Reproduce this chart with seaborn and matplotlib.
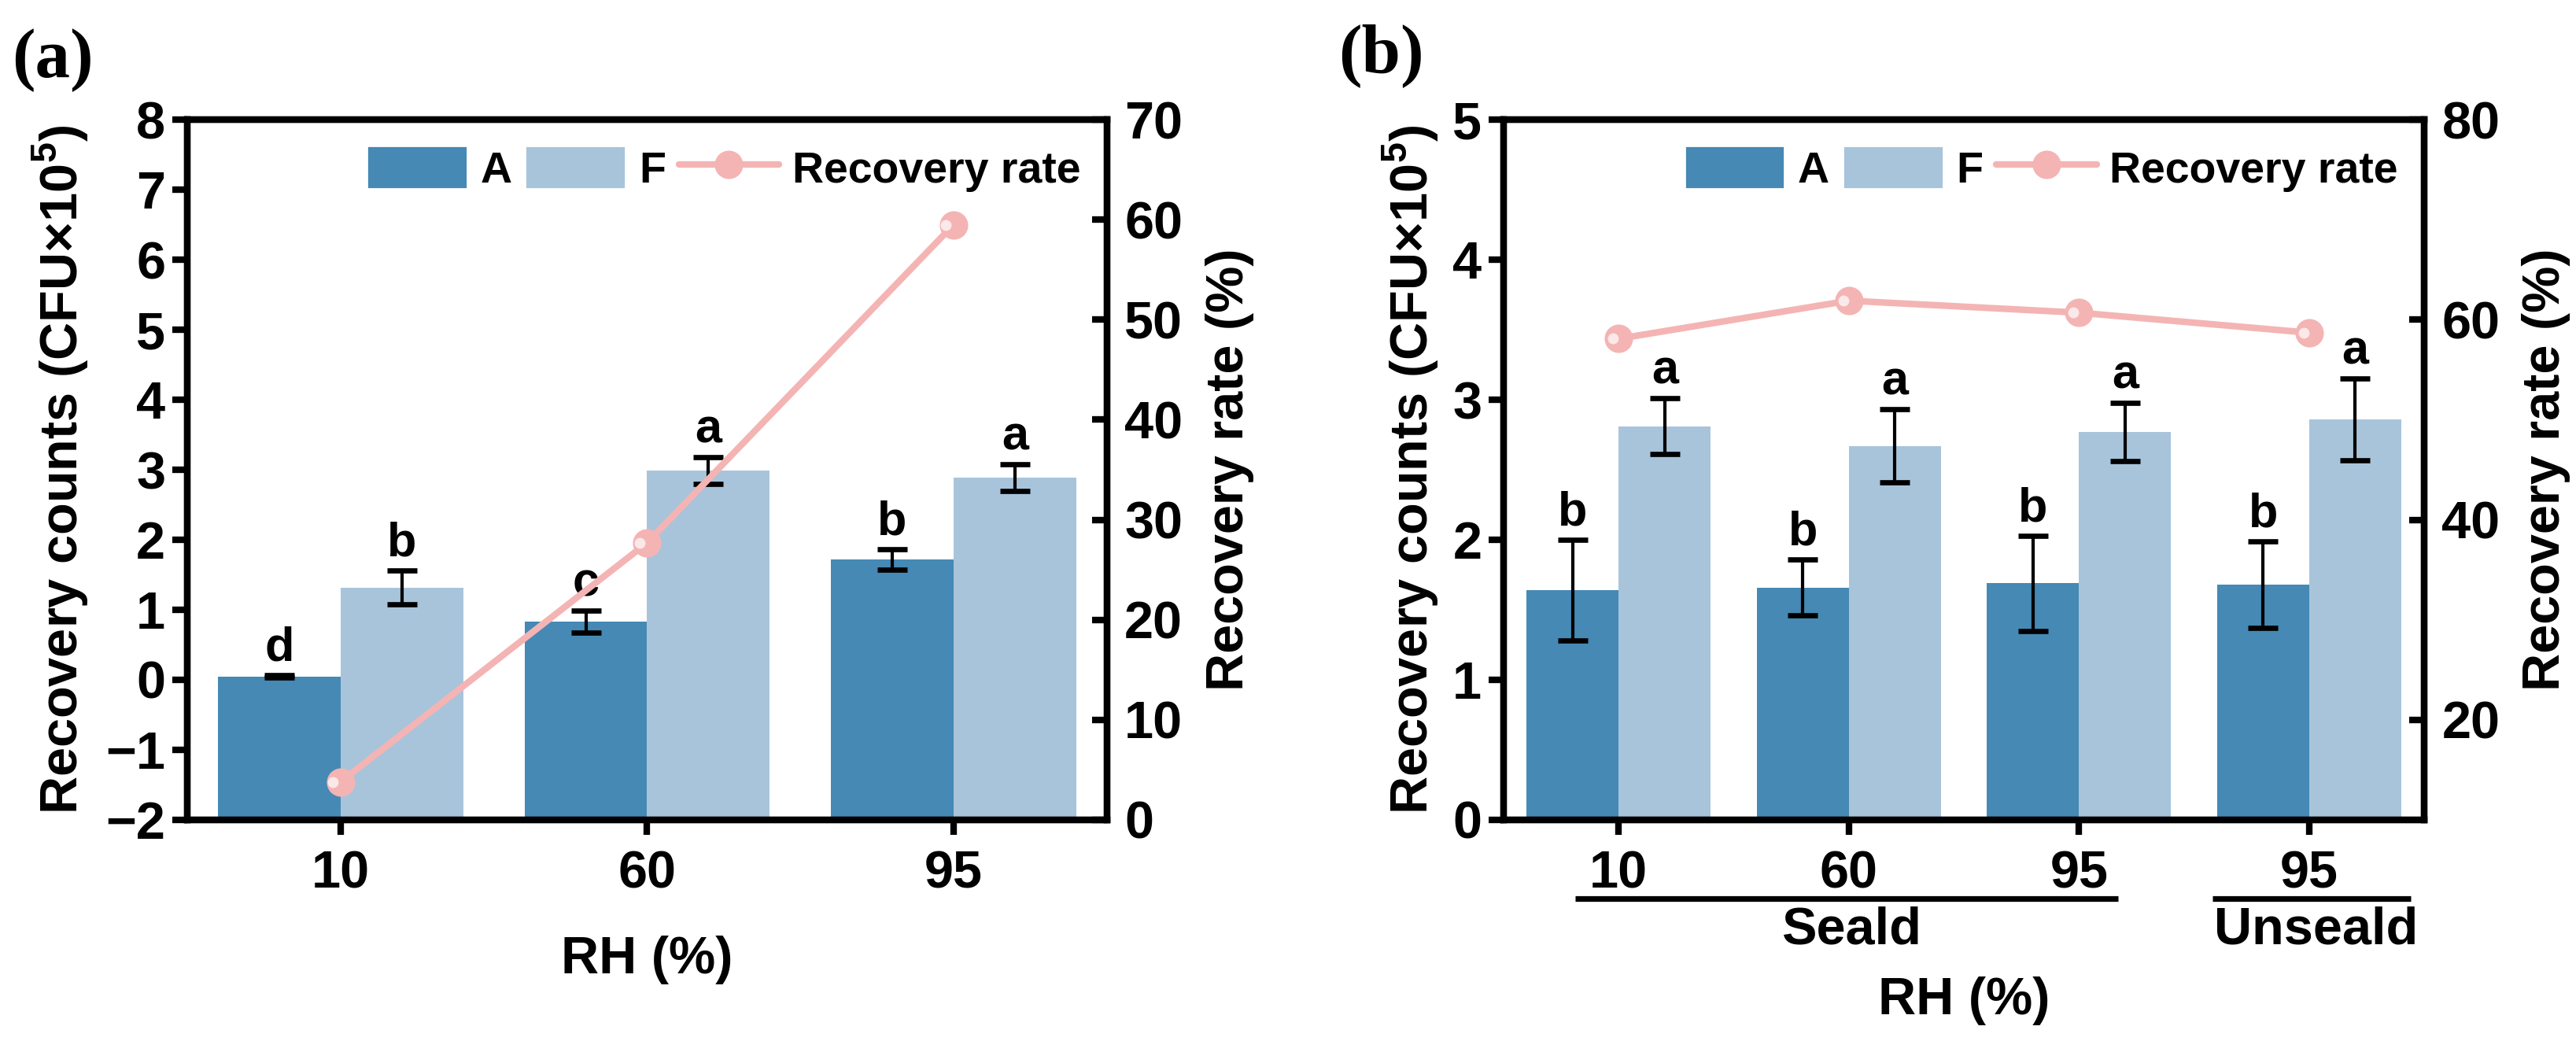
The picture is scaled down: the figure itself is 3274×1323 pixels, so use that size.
import numpy as np
import pandas as pd
import matplotlib
matplotlib.use('Agg')
import matplotlib.pyplot as plt
import seaborn as sns
from matplotlib.patches import Patch
from matplotlib.lines import Line2D
import matplotlib.transforms as mtransforms

sns.set_style('ticks', rc={'axes.edgecolor': 'black', 'xtick.color': 'black',
                           'ytick.color': 'black', 'text.color': 'black',
                           'axes.labelcolor': 'black'})
plt.rcParams['font.family'] = ['Liberation Sans', 'DejaVu Sans']
plt.rcParams['font.weight'] = 'bold'
plt.rcParams['axes.labelweight'] = 'bold'
plt.rcParams['mathtext.fontset'] = 'custom'
plt.rcParams['mathtext.rm'] = 'Liberation Sans:bold'
plt.rcParams['mathtext.bf'] = 'Liberation Sans:bold'

# ---- data, panel (a)
rh_a = ['10', '60', '95']
a_mean_a = [0.05, 0.83, 1.72]
a_err_a = [0.02, 0.16, 0.15]
f_mean_a = [1.32, 2.99, 2.89]
f_err_a = [0.24, 0.19, 0.19]
rate_a = [3.8, 27.7, 59.5]
let_a_A = ['d', 'c', 'b']
let_a_F = ['b', 'a', 'a']

# ---- data, panel (b)
rh_b = ['10', '60', '95', '95']
keys_b = ['10 Seald', '60 Seald', '95 Seald', '95 Unseald']
a_mean_b = [1.64, 1.66, 1.69, 1.68]
a_err_b = [0.36, 0.20, 0.34, 0.31]
f_mean_b = [2.81, 2.67, 2.77, 2.86]
f_err_b = [0.20, 0.26, 0.21, 0.29]
rate_b = [58.1, 61.9, 60.7, 58.7]
let_b_A = ['b', 'b', 'b', 'b']
let_b_F = ['a', 'a', 'a', 'a']

groups = ['A', 'F']
pal = {'A': '#4589B4', 'F': '#A8C4DB'}
pink = '#F4B4B4'

fig = plt.figure(figsize=(16.37, 6.615), dpi=200)
ax_a = fig.add_axes([0.0727, 0.2124, 0.357, 0.6727])
ax_b = fig.add_axes([0.5837, 0.2124, 0.3574, 0.6727])

SPW = 3
TICK_FS = 24
LAB_FS = 24


def panel(ax, keys, a_mean, a_err, f_mean, f_err, rate, let_A, let_F,
          ylim, yticks, rlim, rticks, bar_base):
    df = pd.DataFrame({'key': keys * 2,
                       'grp': ['A'] * len(keys) + ['F'] * len(keys),
                       'val': list(a_mean) + list(f_mean)})
    sns.barplot(data=df, x='key', y='val', hue='grp', hue_order=groups,
                order=keys, palette=pal, saturation=1, width=0.8,
                errorbar=None, legend=False, ax=ax, zorder=2)
    errs = [a_err, f_err]
    means = [a_mean, f_mean]
    lets = [let_A, let_F]
    conts = list(ax.containers)
    for ci, cont in enumerate(conts):
        xs = []
        for p, m in zip(cont.patches, means[ci]):
            p.set_y(bar_base)
            p.set_height(m - bar_base)
            p.set_linewidth(0)
            xs.append(p.get_x() + p.get_width() / 2)
        ax.errorbar(xs, means[ci], yerr=errs[ci], fmt='none', ecolor='black',
                    elinewidth=1.5, capsize=7, capthick=2.4, zorder=3)
        for x, m, e, t in zip(xs, means[ci], errs[ci], lets[ci]):
            ax.annotate(t, (x, m + e), xytext=(0, 2), textcoords='offset points',
                        ha='center', va='bottom', fontsize=22, fontweight='bold')
    ax.set_ylim(*ylim)
    ax.set_yticks(yticks)
    ax.set_xlim(-0.5, len(keys) - 0.5)
    ax.set_xlabel('')
    ax.set_ylabel(r'Recovery counts (CFU×10$^{\mathbf{5}}$)', fontsize=LAB_FS,
                  fontweight='bold', va='center')
    ax.tick_params(axis='y', direction='out', length=7, width=SPW, labelsize=TICK_FS, pad=3)
    ax.tick_params(axis='x', direction='out', length=7, width=SPW, labelsize=TICK_FS, pad=7)
    for s in ax.spines.values():
        s.set_visible(True)
        s.set_linewidth(SPW)

    ax2 = ax.twinx()
    sns.lineplot(x=keys, y=rate, ax=ax2, color=pink, lw=3, marker='o',
                 markersize=13, markerfacecolor=pink, markeredgewidth=0,
                 sort=False, zorder=4)
    ax2.scatter(np.arange(len(keys)) - 0.025, rate, s=25, color='white',
                alpha=0.7, linewidths=0, zorder=5)
    ax2.set_ylim(*rlim)
    ax2.set_yticks(rticks)
    ax2.set_ylabel('Recovery rate (%)', fontsize=LAB_FS, fontweight='bold', va='center')
    ax2.tick_params(axis='y', direction='in', length=7, width=SPW, labelsize=TICK_FS, pad=8)
    for s in ax2.spines.values():
        s.set_linewidth(SPW)
    ax.set_xlim(-0.5, len(keys) - 0.5)

    handles = [Patch(facecolor=pal['A'], label='A'),
               Patch(facecolor=pal['F'], label='F'),
               Line2D([0], [0], color=pink, lw=3, marker='o', markersize=13,
                      markeredgewidth=0, label='Recovery rate')]
    ax2.legend(handles=handles, loc='upper right', ncol=3, frameon=False,
               handlelength=2.3, handleheight=1.15,
               handletextpad=0.3, columnspacing=0.3,
               bbox_to_anchor=(1.0, 1.0), borderaxespad=0.2,
               prop={'weight': 'bold', 'size': 20})
    for t in ax.get_xticklabels() + ax.get_yticklabels() + ax2.get_yticklabels():
        t.set_fontweight('bold')
    return ax2


ax2_a = panel(ax_a, rh_a, a_mean_a, a_err_a, f_mean_a, f_err_a, rate_a,
              let_a_A, let_a_F, (-2, 8), np.arange(-2, 9, 1),
              (0, 70), np.arange(0, 71, 10), -2)
ax_a.set_xticks(range(len(rh_a)))
ax_a.set_xticklabels(rh_a)
ax_a.set_xlabel('RH (%)', fontsize=LAB_FS, fontweight='bold', va='center')
ax_a.xaxis.set_label_coords(0.5, -0.2)
ax_a.yaxis.set_label_coords(-0.138, 0.5)
ax2_a.yaxis.set_label_coords(1.134, 0.5)

ax2_b = panel(ax_b, keys_b, a_mean_b, a_err_b, f_mean_b, f_err_b, rate_b,
              let_b_A, let_b_F, (0, 5), np.arange(0, 6, 1),
              (10, 80), [20, 40, 60, 80], 0)
ax_b.set_xticks(range(len(keys_b)))
ax_b.set_xticklabels(rh_b)
ax_b.set_xlabel('RH (%)', fontsize=LAB_FS, fontweight='bold', va='center')
ax_b.xaxis.set_label_coords(0.5, -0.258)
ax_b.yaxis.set_label_coords(-0.101, 0.5)
ax2_b.yaxis.set_label_coords(1.132, 0.5)

# group brackets under panel (b)
trans = mtransforms.blended_transform_factory(ax_b.transData, ax_b.transAxes)
for (x0, x1, name) in [(-0.19, 2.17, 'Seald'), (2.58, 3.44, 'Unseald')]:
    ax_b.plot([x0, x1], [-0.112, -0.112], color='black', lw=2.6,
              transform=trans, clip_on=False, solid_capstyle='butt')
    ax_b.text((x0 + x1) / 2 + 0.02, -0.158, name, transform=trans, ha='center',
              va='center', fontsize=LAB_FS, fontweight='bold')

fig.text(0.0205, 0.942, '(a)', family='Liberation Serif', fontweight='bold',
         fontsize=32, ha='center', va='center')
fig.text(0.5363, 0.947, '(b)', family='Liberation Serif', fontweight='bold',
         fontsize=32, ha='center', va='center')

fig.savefig('out.png', dpi=200, facecolor='white')
